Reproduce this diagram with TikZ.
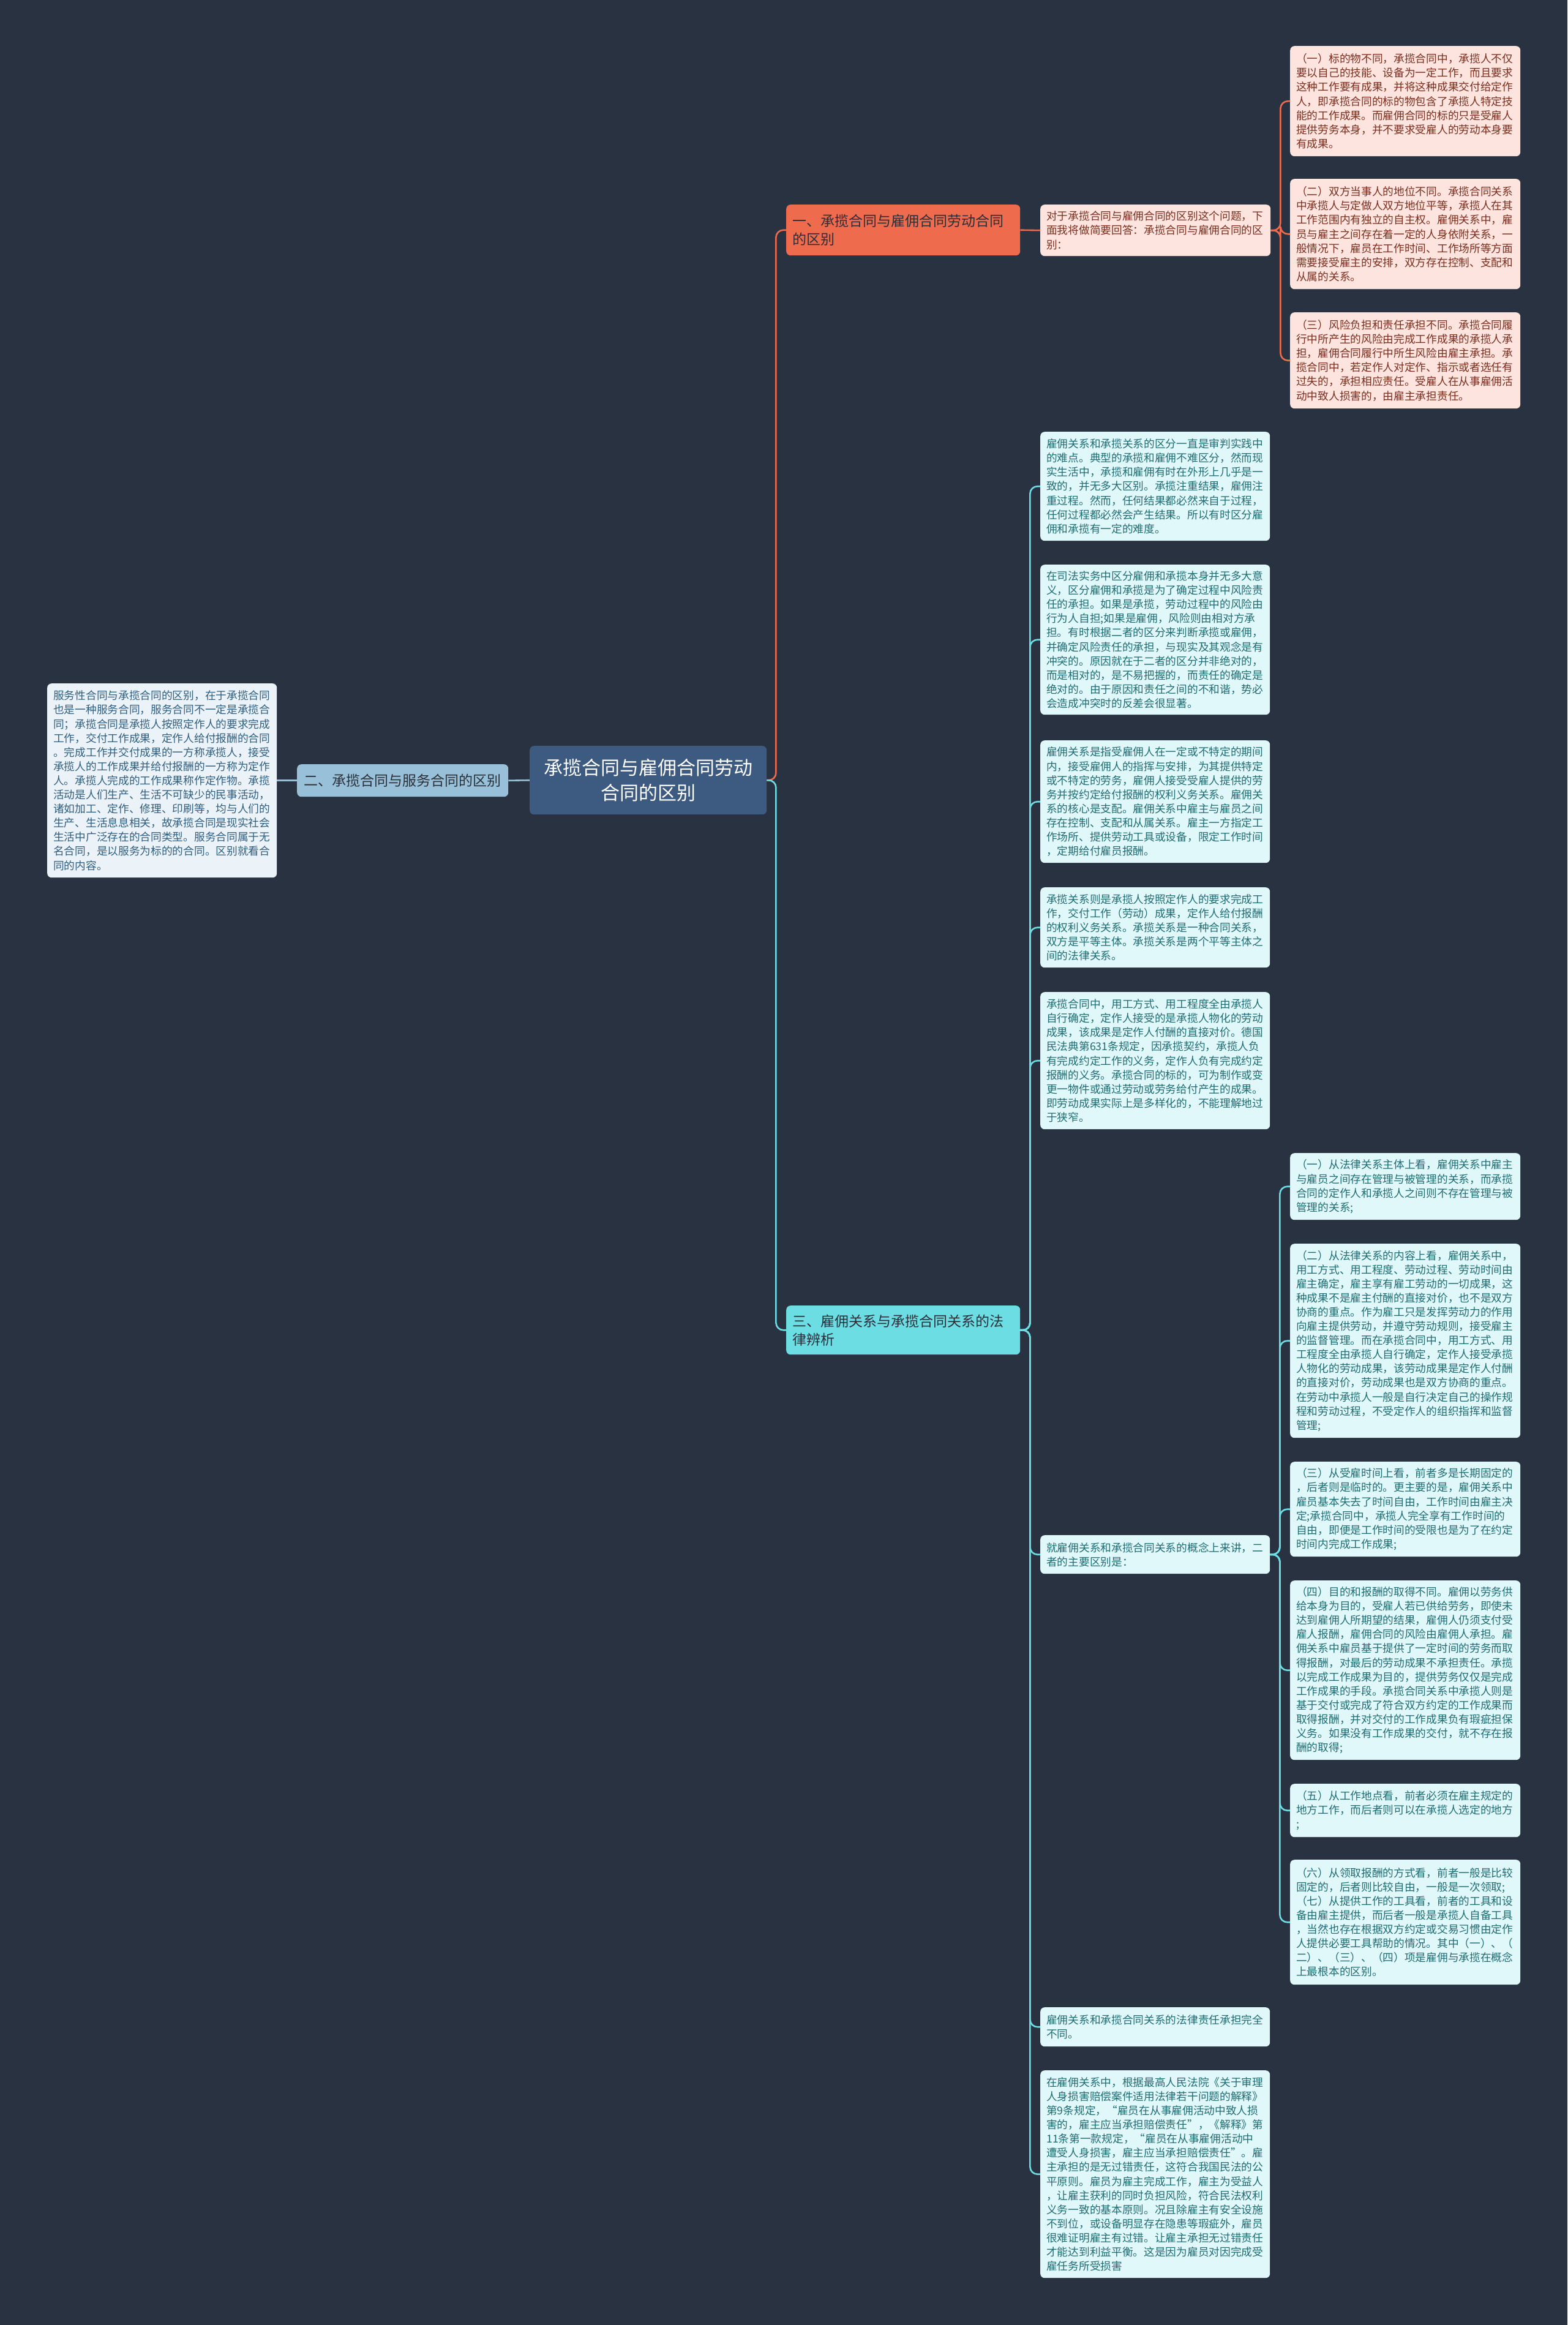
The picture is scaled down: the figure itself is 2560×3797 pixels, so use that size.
\documentclass[tikz,border=0pt]{standalone}
\usepackage{fontspec}
\setmainfont{Noto Sans CJK SC}
\definecolor{bgcol}{HTML}{293241}
\definecolor{centerfill}{HTML}{3D5A80}
\definecolor{orangefill}{HTML}{EE6C4D}
\definecolor{bluefill}{HTML}{98C1D9}
\definecolor{cyanbr}{HTML}{6DDDE4}
\definecolor{pinkfill}{HTML}{FDE4DE}
\definecolor{pinktext}{HTML}{7A2E1E}
\definecolor{cyanfill}{HTML}{E0F8F9}
\definecolor{cyantext}{HTML}{1F6C73}
\definecolor{lbfill}{HTML}{EBF3F9}
\definecolor{lbtext}{HTML}{2F5E7E}
\definecolor{darktext}{HTML}{2A2F38}
\tikzset{
  base/.style={anchor=north west, rounded corners=7pt, inner ysep=0pt, inner xsep=10pt, align=left,
    font=\fontsize{17.7}{23.1}\selectfont},
  pinkbox/.style={base, fill=pinkfill, text=pinktext, text width=356pt},
  cyanbox/.style={base, fill=cyanfill, text=cyantext, text width=355pt},
  lbbox/.style={base, fill=lbfill, text=lbtext, text width=355pt},
  mainbox/.style={anchor=north west, rounded corners=7pt, inner sep=0pt, fill=centerfill, text=white,
    align=center, text width=387pt, font=\fontsize{31}{41}\selectfont},
  brbox/.style={anchor=north west, rounded corners=7pt, inner ysep=0pt, inner xsep=10pt, align=left,
    text width=362pt, font=\fontsize{23}{30}\selectfont, text=darktext},
  ln/.style={line width=2.6pt, rounded corners=12pt},
  ln1/.style={ln, draw=orangefill},
  ln2/.style={ln, draw=bluefill},
  ln3/.style={ln, draw=cyanbr},
}
\begin{document}
\begin{tikzpicture}[x=1pt,y=-1pt]
\fill[bgcol] (0,0) rectangle (2560,3797);
\useasboundingbox (0,0) rectangle (2560,3797);

% center
\node[mainbox, minimum height=112pt] (c) at (865,1218) {承揽合同与雇佣合同劳动\\合同的区别};

% branch 2 and left box
\node[anchor=north west, rounded corners=7pt, inner sep=0pt, fill=bluefill, text=darktext,
  minimum width=345pt, minimum height=53pt, font=\fontsize{23}{28}\selectfont] (b2) at (485,1248) {二、承揽合同与服务合同的区别};
\node[lbbox, minimum height=317pt] (L) at (77,1116) {服务性合同与承揽合同的区别，在于承揽合同\\
也是一种服务合同，服务合同不一定是承揽合\\
同；承揽合同是承揽人按照定作人的要求完成\\
工作，交付工作成果，定作人给付报酬的合同\\
。完成工作并交付成果的一方称承揽人，接受\\
承揽人的工作成果并给付报酬的一方称为定作\\
人。承揽人完成的工作成果称作定作物。承揽\\
活动是人们生产、生活不可缺少的民事活动，\\
诸如加工、定作、修理、印刷等，均与人们的\\
生产、生活息息相关，故承揽合同是现实社会\\
生活中广泛存在的合同类型。服务合同属于无\\
名合同，是以服务为标的的合同。区别就看合\\
同的内容。};

% branch 1
\node[brbox, fill=orangefill, minimum height=83pt] (b1) at (1284,334) {一、承揽合同与雇佣合同劳动合同\\的区别};
\node[pinkbox, minimum height=84pt] (i1) at (1699,334) {对于承揽合同与雇佣合同的区别这个问题，下\\
面我将做简要回答：承揽合同与雇佣合同的区\\
别：};
\node[pinkbox, minimum height=180pt] (p1) at (2107,75) {（一）标的物不同，承揽合同中，承揽人不仅\\
要以自己的技能、设备为一定工作，而且要求\\
这种工作要有成果，并将这种成果交付给定作\\
人，即承揽合同的标的物包含了承揽人特定技\\
能的工作成果。而雇佣合同的标的只是受雇人\\
提供劳务本身，并不要求受雇人的劳动本身要\\
有成果。};
\node[pinkbox, minimum height=180pt] (p2) at (2107,292) {（二）双方当事人的地位不同。承揽合同关系\\
中承揽人与定做人双方地位平等，承揽人在其\\
工作范围内有独立的自主权。雇佣关系中，雇\\
员与雇主之间存在着一定的人身依附关系，一\\
般情况下，雇员在工作时间、工作场所等方面\\
需要接受雇主的安排，双方存在控制、支配和\\
从属的关系。};
\node[pinkbox, minimum height=157pt] (p3) at (2107,510) {（三）风险负担和责任承担不同。承揽合同履\\
行中所产生的风险由完成工作成果的承揽人承\\
担，雇佣合同履行中所生风险由雇主承担。承\\
揽合同中，若定作人对定作、指示或者选任有\\
过失的，承担相应责任。受雇人在从事雇佣活\\
动中致人损害的，由雇主承担责任。};

% branch 3
\node[brbox, fill=cyanbr, minimum height=80pt] (b3) at (1284,2132) {三、雇佣关系与承揽合同关系的法\\律辨析};
\node[cyanbox, minimum height=178pt] (m1) at (1699,705) {雇佣关系和承揽关系的区分一直是审判实践中\\
的难点。典型的承揽和雇佣不难区分，然而现\\
实生活中，承揽和雇佣有时在外形上几乎是一\\
致的，并无多大区别。承揽注重结果，雇佣注\\
重过程。然而，任何结果都必然来自于过程，\\
任何过程都必然会产生结果。所以有时区分雇\\
佣和承揽有一定的难度。};
\node[cyanbox, minimum height=245pt] (m2) at (1699,922) {在司法实务中区分雇佣和承揽本身并无多大意\\
义，区分雇佣和承揽是为了确定过程中风险责\\
任的承担。如果是承揽，劳动过程中的风险由\\
行为人自担;如果是雇佣，风险则由相对方承\\
担。有时根据二者的区分来判断承揽或雇佣，\\
并确定风险责任的承担，与现实及其观念是有\\
冲突的。原因就在于二者的区分并非绝对的，\\
而是相对的，是不易把握的，而责任的确定是\\
绝对的。由于原因和责任之间的不和谐，势必\\
会造成冲突时的反差会很显著。};
\node[cyanbox, minimum height=200pt] (m3) at (1699,1209) {雇佣关系是指受雇佣人在一定或不特定的期间\\
内，接受雇佣人的指挥与安排，为其提供特定\\
或不特定的劳务，雇佣人接受受雇人提供的劳\\
务并按约定给付报酬的权利义务关系。雇佣关\\
系的核心是支配。雇佣关系中雇主与雇员之间\\
存在控制、支配和从属关系。雇主一方指定工\\
作场所、提供劳动工具或设备，限定工作时间\\
，定期给付雇员报酬。};
\node[cyanbox, minimum height=131pt] (m4) at (1699,1449) {承揽关系则是承揽人按照定作人的要求完成工\\
作，交付工作（劳动）成果，定作人给付报酬\\
的权利义务关系。承揽关系是一种合同关系，\\
双方是平等主体。承揽关系是两个平等主体之\\
间的法律关系。};
\node[cyanbox, minimum height=224pt] (m5) at (1699,1620) {承揽合同中，用工方式、用工程度全由承揽人\\
自行确定，定作人接受的是承揽人物化的劳动\\
成果，该成果是定作人付酬的直接对价。德国\\
民法典第631条规定，因承揽契约，承揽人负\\
有完成约定工作的义务，定作人负有完成约定\\
报酬的义务。承揽合同的标的，可为制作或变\\
更一物件或通过劳动或劳务给付产生的成果。\\
即劳动成果实际上是多样化的，不能理解地过\\
于狭窄。};
\node[cyanbox, minimum height=63pt] (m6) at (1699,2507) {就雇佣关系和承揽合同关系的概念上来讲，二\\
者的主要区别是：};
\node[cyanbox, minimum height=64pt] (m7) at (1699,3278) {雇佣关系和承揽合同关系的法律责任承担完全\\
不同。};
\node[cyanbox, minimum height=339pt] (m8) at (1699,3381) {在雇佣关系中，根据最高人民法院《关于审理\\
人身损害赔偿案件适用法律若干问题的解释》\\
第9条规定，“雇员在从事雇佣活动中致人损\\
害的，雇主应当承担赔偿责任”，《解释》第\\
11条第一款规定，“雇员在从事雇佣活动中\\
遭受人身损害，雇主应当承担赔偿责任”。雇\\
主承担的是无过错责任，这符合我国民法的公\\
平原则。雇员为雇主完成工作，雇主为受益人\\
，让雇主获利的同时负担风险，符合民法权利\\
义务一致的基本原则。况且除雇主有安全设施\\
不到位，或设备明显存在隐患等瑕疵外，雇员\\
很难证明雇主有过错。让雇主承担无过错责任\\
才能达到利益平衡。这是因为雇员对因完成受\\
雇任务所受损害};

\node[cyanbox, text width=356pt, minimum height=109pt] (r1) at (2107,1883) {（一）从法律关系主体上看，雇佣关系中雇主\\
与雇员之间存在管理与被管理的关系，而承揽\\
合同的定作人和承揽人之间则不存在管理与被\\
管理的关系;};
\node[cyanbox, text width=356pt, minimum height=317pt] (r2) at (2107,2031) {（二）从法律关系的内容上看，雇佣关系中，\\
用工方式、用工程度、劳动过程、劳动时间由\\
雇主确定，雇主享有雇工劳动的一切成果，这\\
种成果不是雇主付酬的直接对价，也不是双方\\
协商的重点。作为雇工只是发挥劳动力的作用\\
向雇主提供劳动，并遵守劳动规则，接受雇主\\
的监督管理。而在承揽合同中，用工方式、用\\
工程度全由承揽人自行确定，定作人接受承揽\\
人物化的劳动成果，该劳动成果是定作人付酬\\
的直接对价，劳动成果也是双方协商的重点。\\
在劳动中承揽人一般是自行决定自己的操作规\\
程和劳动过程，不受定作人的组织指挥和监督\\
管理;};
\node[cyanbox, text width=356pt, minimum height=155pt] (r3) at (2107,2387) {（三）从受雇时间上看，前者多是长期固定的\\
，后者则是临时的。更主要的是，雇佣关系中\\
雇员基本失去了时间自由，工作时间由雇主决\\
定;承揽合同中，承揽人完全享有工作时间的\\
自由，即便是工作时间的受限也是为了在约定\\
时间内完成工作成果;};
\node[cyanbox, text width=356pt, minimum height=293pt] (r4) at (2107,2581) {（四）目的和报酬的取得不同。雇佣以劳务供\\
给本身为目的，受雇人若已供给劳务，即使未\\
达到雇佣人所期望的结果，雇佣人仍须支付受\\
雇人报酬，雇佣合同的风险由雇佣人承担。雇\\
佣关系中雇员基于提供了一定时间的劳务而取\\
得报酬，对最后的劳动成果不承担责任。承揽\\
以完成工作成果为目的，提供劳务仅仅是完成\\
工作成果的手段。承揽合同关系中承揽人则是\\
基于交付或完成了符合双方约定的工作成果而\\
取得报酬，并对交付的工作成果负有瑕疵担保\\
义务。如果没有工作成果的交付，就不存在报\\
酬的取得;};
\node[cyanbox, text width=356pt, minimum height=87pt] (r5) at (2107,2913) {（五）从工作地点看，前者必须在雇主规定的\\
地方工作，而后者则可以在承揽人选定的地方\\
;};
\node[cyanbox, text width=356pt, minimum height=204pt] (r6) at (2107,3037) {（六）从领取报酬的方式看，前者一般是比较\\
固定的，后者则比较自由，一般是一次领取;\\
（七）从提供工作的工具看，前者的工具和设\\
备由雇主提供，而后者一般是承揽人自备工具\\
，当然也存在根据双方约定或交易习惯由定作\\
人提供必要工具帮助的情况。其中（一）、（\\
二）、（三）、（四）项是雇佣与承揽在概念\\
上最根本的区别。};

% connectors
\draw[ln1] (c.east) -- ++(15,0) |- (b1.west);
\draw[ln3] (c.east) -- ++(15,0) |- (b3.west);
\draw[ln2] (c.west) -- (b2.east);
\draw[ln2] (b2.west) -- (L.east);
\draw[ln1] (b1.east) -- (i1.west);
\foreach \n in {p1,p2,p3} \draw[ln1] (i1.east) -- ++(16,0) |- (\n.west);
\foreach \n in {m1,m2,m3,m4,m5,m6,m7,m8} \draw[ln3] (b3.east) -- ++(16,0) |- (\n.west);
\foreach \n in {r1,r2,r3,r4,r5,r6} \draw[ln3] (m6.east) -- ++(16,0) |- (\n.west);
\end{tikzpicture}
\end{document}
